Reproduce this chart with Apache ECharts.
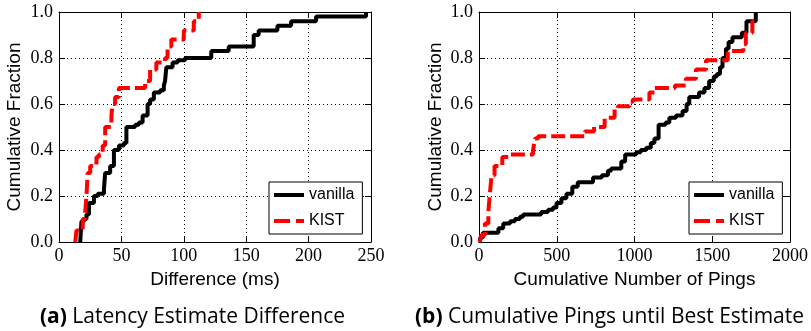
<!DOCTYPE html>
<html><head><meta charset="utf-8">
<script src="https://cdn.jsdelivr.net/npm/echarts@6/dist/echarts.min.js"></script>
<style>html,body{margin:0;padding:0;background:#fff}#c{width:811px;height:331px}</style>
</head><body><div id="c"></div>
<script>
const latencyTicks = [0, 50, 100, 150, 200, 250];
const pingTicks = [0, 500, 1000, 1500, 2000];
const fractionTicks = [0.0, 0.2, 0.4, 0.6, 0.8, 1.0];
const seriesNames = ['vanilla', 'KIST'];
const captions = ['(a)', 'Latency Estimate Difference', '(b)', 'Cumulative Pings until Best Estimate'];
const axisTitles = ['Difference (ms)', 'Cumulative Number of Pings', 'Cumulative Fraction'];

// [x, cumulative fraction] step points
const latencyVanilla = [[17,0],[18,0.09],[20,0.10],[22,0.12],[24,0.17],[28,0.20],[31,0.21],[36,0.23],[37,0.30],[41,0.33],[44,0.40],[48,0.42],[52,0.43],[54,0.50],[61,0.51],[64,0.52],[67,0.55],[71,0.60],[73,0.62],[76,0.65],[81,0.66],[84,0.68],[85,0.70],[86,0.76],[91,0.78],[95,0.79],[101,0.80],[122,0.83],[136,0.85],[156,0.90],[160,0.92],[175,0.94],[186,0.96],[206,0.98],[246,1.0]];
const latencyKist = [[13,0],[14,0.05],[19,0.10],[21,0.13],[22,0.20],[23,0.30],[25,0.33],[30,0.37],[32,0.38],[35,0.42],[37,0.50],[42,0.55],[43,0.60],[45,0.63],[48,0.67],[69,0.70],[73,0.75],[78,0.78],[85,0.80],[87,0.85],[90,0.88],[100,0.92],[108,0.96],[112,1.0]];
const pingsVanilla = [[5,0],[8,0.02],[25,0.04],[125,0.06],[156,0.08],[200,0.09],[231,0.10],[263,0.11],[284,0.12],[400,0.13],[444,0.14],[476,0.15],[498,0.17],[530,0.19],[562,0.21],[600,0.24],[635,0.26],[733,0.28],[790,0.29],[829,0.31],[850,0.32],[915,0.35],[940,0.38],[1010,0.39],[1040,0.40],[1075,0.41],[1105,0.43],[1128,0.45],[1155,0.51],[1200,0.52],[1224,0.54],[1267,0.55],[1309,0.57],[1335,0.60],[1352,0.63],[1415,0.65],[1450,0.67],[1480,0.70],[1510,0.72],[1530,0.73],[1550,0.76],[1566,0.80],[1588,0.84],[1605,0.87],[1630,0.89],[1690,0.91],[1720,0.96],[1780,1.0]];
const pingsKist = [[5,0],[15,0.03],[38,0.08],[60,0.13],[70,0.21],[81,0.29],[100,0.33],[150,0.37],[190,0.38],[348,0.40],[360,0.45],[380,0.46],[680,0.48],[740,0.50],[808,0.54],[872,0.58],[893,0.59],[968,0.61],[989,0.62],[1096,0.65],[1130,0.67],[1260,0.68],[1330,0.71],[1395,0.75],[1460,0.79],[1600,0.83],[1700,0.86],[1716,0.91],[1758,0.96],[1790,0.97]];

const chart = echarts.init(document.getElementById('c'), null, {renderer: 'canvas'});

function frameLine() { return {show: true, onZero: false, lineStyle: {color: '#000', width: 1}}; }
function tick() { return {show: true, inside: true, length: 6, lineStyle: {color: '#000', width: 1}}; }
function dotted() { return {show: true, lineStyle: {color: '#000', width: 1, type: [1, 3]}}; }
function titleStyle() { return {fontFamily: 'Liberation Sans', fontSize: 19, color: '#000', lineHeight: 19}; }

function xAxes(gridIndex, ticks, title) {
  const mn = ticks[0], mx = ticks[ticks.length - 1], iv = ticks[1] - ticks[0];
  return [
    {type: 'value', gridIndex, position: 'bottom', min: mn, max: mx, interval: iv,
     axisLine: frameLine(), axisTick: tick(), splitLine: dotted(),
     axisLabel: {margin: 5, fontFamily: 'Liberation Serif', fontSize: 18, color: '#000',
                 formatter: v => String(v)},
     name: title, nameLocation: 'middle', nameGap: 26, nameTextStyle: titleStyle()},
    {type: 'value', gridIndex, position: 'top', min: mn, max: mx, interval: iv,
     axisLine: frameLine(), axisTick: tick(), splitLine: {show: false}, axisLabel: {show: false}}
  ];
}
function yAxes(gridIndex, ticks, title, gap) {
  const mn = ticks[0], mx = ticks[ticks.length - 1], iv = ticks[1] - ticks[0];
  return [
    {type: 'value', gridIndex, position: 'left', min: mn, max: mx, interval: iv,
     axisLine: frameLine(), axisTick: tick(), splitLine: dotted(),
     axisLabel: {margin: 6, fontFamily: 'Liberation Serif', fontSize: 18, color: '#000',
                 formatter: v => v.toFixed(1)},
     name: title, nameLocation: 'middle', nameGap: gap, nameRotate: 90, nameTextStyle: titleStyle()},
    {type: 'value', gridIndex, position: 'right', min: mn, max: mx, interval: iv,
     axisLine: frameLine(), axisTick: tick(), splitLine: {show: false}, axisLabel: {show: false}}
  ];
}
function lineSeries(name, data, xi, yi) {
  const isKist = name === 'KIST';
  return {
    type: 'line', name, data, xAxisIndex: xi, yAxisIndex: yi, step: 'end',
    symbol: 'none', showSymbol: false, z: isKist ? 3 : 2,
    lineStyle: isKist ? {color: '#ff0000', width: 4, type: [14, 5], cap: 'butt'}
                      : {color: '#000000', width: 4, cap: 'butt'},
    itemStyle: {color: isKist ? '#ff0000' : '#000000'}
  };
}
function legendAt(left) {
  return {
    left, top: 182, orient: 'vertical', selectedMode: false,
    data: [
      {name: seriesNames[0], icon: 'rect'},
      {name: seriesNames[1], icon: 'path://M0,0h16v4h-16zM22,0h8v4h-8z'}
    ],
    itemWidth: 30, itemHeight: 4, itemGap: 10, padding: [5, 8, 5, 5],
    borderColor: '#000', borderWidth: 1, borderRadius: 0, backgroundColor: '#fff',
    textStyle: {fontFamily: 'Liberation Sans', fontSize: 16, color: '#000', lineHeight: 16}
  };
}
function caption(left, tag, text) {
  return {
    left, top: 299, text: '{b|' + tag + '} {r|' + text + '}',
    textStyle: {fontFamily: 'Open Sans', fontSize: 21, fontWeight: 'normal', color: '#000',
      rich: {
        b: {fontFamily: 'Open Sans', fontWeight: 'bold', fontSize: 21, color: '#000', lineHeight: 26},
        r: {fontFamily: 'Open Sans', fontWeight: 'normal', fontSize: 21, color: '#000', lineHeight: 26}
      }}
  };
}

chart.setOption({
  animation: false,
  backgroundColor: '#fff',
  grid: [
    {left: 59, top: 12, width: 312, height: 230, show: false},
    {left: 479, top: 12, width: 312, height: 230, show: false}
  ],
  xAxis: [...xAxes(0, latencyTicks, axisTitles[0]), ...xAxes(1, pingTicks, axisTitles[1])],
  yAxis: [...yAxes(0, fractionTicks, axisTitles[2], 35), ...yAxes(1, fractionTicks, axisTitles[2], 34)],
  legend: [legendAt(269), legendAt(689)],
  title: [caption(35, captions[0], captions[1]), caption(410, captions[2], captions[3])],
  series: [
    lineSeries(seriesNames[0], latencyVanilla, 0, 0),
    lineSeries(seriesNames[1], latencyKist, 0, 0),
    lineSeries(seriesNames[0], pingsVanilla, 2, 2),
    lineSeries(seriesNames[1], pingsKist, 2, 2)
  ]
});
</script></body></html>
